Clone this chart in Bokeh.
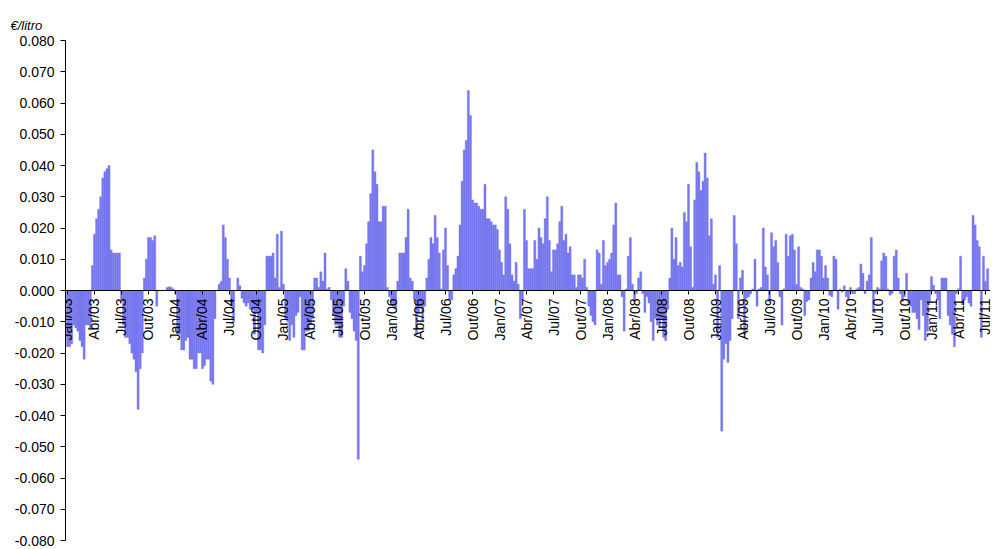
import math
from bokeh.plotting import figure
from bokeh.models import Range1d, FixedTicker, NumeralTickFormatter, Title
from bokeh.embed import file_html
from bokeh.resources import INLINE

# weekly variation (EUR/litre), one list per year, starting first week of Jan/03
w2003 = [-0.018, -0.018, -0.017, -0.011, -0.012, -0.013, -0.016, -0.018, -0.022, -0.011, -0.011, -0.012, 0.008,
         0.018, 0.023, 0.026, 0.030, 0.036, 0.038, 0.039, 0.040, 0.013, 0.012, 0.012, 0.012, 0.012,
         -0.003, -0.011, -0.015, -0.015, -0.017, -0.020, -0.022, -0.026, -0.038, -0.025, -0.020, 0.004, 0.010,
         0.017, 0.017, 0.016, 0.0175, -0.005, 0.0, 0.0, 0.0, 0.0, 0.001, 0.0012, 0.001, 0.0005]
w2004 = [-0.001, -0.014, -0.014, -0.019, -0.019, -0.016, -0.015, -0.022, -0.022, -0.025, -0.025, -0.020, -0.020,
         -0.025, -0.024, -0.022, -0.022, -0.029, -0.030, -0.009, 0.0, 0.002, 0.003, 0.021, 0.017, 0.010,
         0.004, -0.005, -0.010, 0.0, 0.004, 0.0015, -0.0025, -0.004, -0.005, -0.004, -0.006, -0.006, -0.014,
         -0.007, -0.019, -0.019, -0.020, -0.011, 0.011, 0.011, 0.011, 0.012, 0.004, 0.018, 0.001, 0.019]
w2005 = [0.002, -0.009, -0.010, -0.016, -0.011, -0.015, -0.008, -0.007, -0.002, -0.019, -0.019, -0.013, -0.013,
         -0.011, -0.009, 0.004, 0.004, 0.001, 0.006, 0.003, 0.012, 0.0005, 0.001, -0.003, -0.008, -0.011,
         -0.011, -0.015, -0.015, -0.005, 0.007, 0.003, -0.007, -0.009, -0.013, -0.016, -0.054, 0.011, 0.006,
         0.008, 0.015, 0.022, 0.031, 0.045, 0.038, 0.034, 0.022, 0.022, 0.027, 0.027, 0.001, -0.002]
w2006 = [-0.004, -0.005, -0.006, 0.003, 0.012, 0.012, 0.012, 0.017, 0.026, 0.004, 0.003, -0.003, -0.014,
         -0.007, -0.005, -0.010, -0.005, 0.004, 0.010, 0.017, 0.015, 0.024, 0.017, 0.012, 0.0005, 0.013,
         0.020, 0.008, -0.003, -0.003, 0.005, 0.007, 0.011, 0.021, 0.035, 0.045, 0.048, 0.064, 0.056,
         0.029, 0.028, 0.028, 0.027, 0.026, 0.026, 0.034, 0.023, 0.023, 0.022, 0.021, 0.021, 0.0195]
w2007 = [0.013, 0.009, 0.005, 0.030, 0.026, 0.015, 0.005, 0.003, 0.009, 0.002, -0.009, -0.003, 0.026,
         0.016, 0.007, 0.007, 0.007, 0.016, 0.010, 0.020, 0.017, 0.015, 0.023, 0.030, 0.016, 0.006,
         0.013, 0.013, 0.015, 0.022, 0.027, 0.016, 0.018, 0.012, 0.014, 0.005, 0.005, 0.001, 0.005,
         0.005, 0.004, 0.010, 0.001, -0.005, -0.008, -0.010, -0.011, 0.013, 0.012, 0.002, 0.016, 0.008]
w2008 = [0.009, 0.010, 0.012, 0.021, 0.028, 0.005, 0.005, -0.002, -0.013, 0.0005, 0.011, 0.017, 0.002,
         -0.0035, -0.001, 0.004, 0.006, -0.001, -0.007, -0.002, -0.004, -0.010, -0.016, -0.009, -0.011, -0.012,
         -0.009, -0.015, -0.016, -0.006, 0.004, 0.020, 0.010, 0.017, 0.008, 0.009, 0.0075, 0.025, 0.022,
         0.034, 0.014, 0.001, 0.029, 0.041, 0.038, 0.032, 0.035, 0.044, 0.036, 0.0175, 0.023, 0.002]
w2009 = [0.005, -0.015, 0.008, -0.045, -0.022, -0.017, -0.023, -0.016, -0.009, 0.024, 0.015, -0.009, 0.004,
         0.0065, -0.014, -0.0025, -0.002, -0.001, 0.0005, 0.010, -0.005, 0.0005, 0.001, 0.020, 0.0075, 0.005,
         -0.0035, 0.0185, 0.014, 0.016, 0.009, -0.002, -0.011, 0.0005, 0.018, 0.011, 0.0175, 0.018, 0.013,
         0.002, 0.014, 0.001, 0.0005, -0.008, -0.0035, -0.003, 0.004, 0.009, 0.006, 0.013, 0.013, 0.011]
w2010 = [0.004, 0.008, 0.004, -0.0015, -0.002, 0.011, 0.010, -0.006, 0.0005, -0.0005, 0.0015, -0.002, -0.003,
         0.001, -0.001, -0.001, 0.0005, 0.001, 0.0085, 0.0055, -0.001, 0.003, 0.005, 0.017, -0.007, -0.001,
         0.001, 0.0005, 0.0095, 0.012, 0.011, 0.0005, -0.0015, -0.001, 0.011, 0.013, 0.004, -0.001, -0.0035,
         -0.002, 0.0055, -0.004, -0.005, -0.007, -0.007, -0.009, -0.0125, -0.003, -0.008, -0.016, -0.013, -0.004]
w2011 = [0.0045, 0.0017, -0.001, -0.003, -0.009, 0.004, 0.004, 0.004, -0.008, -0.011, -0.014, -0.018, -0.001,
         0.0006, 0.011, -0.0046, -0.003, -0.002, -0.004, -0.005, 0.024, 0.021, 0.016, 0.014, -0.015, 0.011,
         0.003, 0.007]

tick_labels = ["Jan/03", "Abr/03", "Jul/03", "Out/03", "Jan/04", "Abr/04", "Jul/04", "Out/04",
               "Jan/05", "Abr/05", "Jul/05", "Out/05", "Jan/06", "Abr/06", "Jul/06", "Out/06",
               "Jan/07", "Abr/07", "Jul/07", "Out/07", "Jan/08", "Abr/08", "Jul/08", "Out/08",
               "Jan/09", "Abr/09", "Jul/09", "Out/09", "Jan/10", "Abr/10", "Jul/10", "Out/10",
               "Jan/11", "Abr/11", "Jul/11"]
y_ticks = [-0.08, -0.07, -0.06, -0.05, -0.04, -0.03, -0.02, -0.01, 0.0,
           0.01, 0.02, 0.03, 0.04, 0.05, 0.06, 0.07, 0.08]

values = w2003 + w2004 + w2005 + w2006 + w2007 + w2008 + w2009 + w2010 + w2011
weeks = list(range(len(values)))
tick_weeks = [13 * i for i in range(len(tick_labels))]

FONT = "Liberation Sans"
BAR = "#7777ee"

p = figure(width=992, height=549, output_backend="svg", toolbar_location=None,
           x_range=Range1d(-0.96, 444.4), y_range=Range1d(-0.08, 0.08),
           min_border_left=65, min_border_right=2, min_border_top=40, min_border_bottom=9)
p.outline_line_color = None
p.grid.visible = False
p.background_fill_color = "white"
p.border_fill_color = "white"

p.vbar(x=weeks, top=values, bottom=0, width=1.0, fill_color=BAR,
       line_color=BAR, line_width=0.4)

ya = p.yaxis[0]
ya.ticker = FixedTicker(ticks=y_ticks)
ya.formatter = NumeralTickFormatter(format="0.000")
ya.major_label_text_font = FONT
ya.major_label_text_font_size = "14px"
ya.major_label_text_color = "black"
ya.axis_line_color = "black"
ya.major_tick_line_color = "black"
ya.major_tick_out = 5
ya.major_tick_in = 0
ya.minor_tick_line_color = None
ya.major_label_standoff = 6

xa = p.xaxis[0]
xa.fixed_location = 0
xa.ticker = FixedTicker(ticks=tick_weeks)
xa.major_label_overrides = {t: lab for t, lab in zip(tick_weeks, tick_labels)}
xa.major_label_orientation = math.pi / 2
xa.major_label_text_font = FONT
xa.major_label_text_font_size = "14px"
xa.major_label_text_color = "black"
xa.axis_line_color = "black"
xa.major_tick_line_color = "black"
xa.major_tick_out = 4
xa.major_tick_in = 0
xa.minor_tick_line_color = None
xa.major_label_standoff = 4

t = Title(text="€/litro", align="left", offset=-55, text_font=FONT, text_font_style="italic",
          text_font_size="13px", text_color="black", standoff=15)
p.add_layout(t, "above")

open("out.html", "w").write(file_html(p, INLINE))
